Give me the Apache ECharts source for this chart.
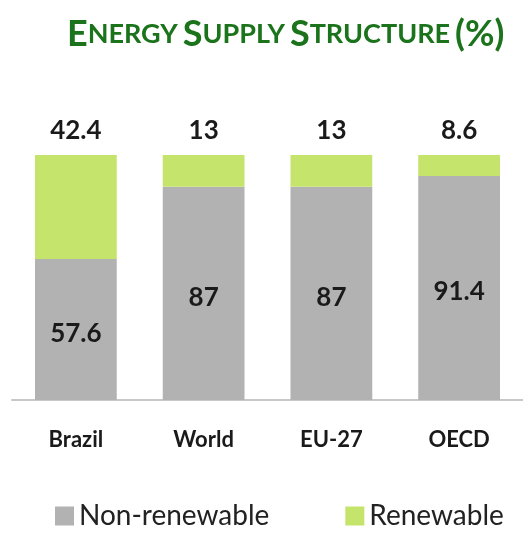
<!DOCTYPE html>
<html>
<head>
<meta charset="utf-8">
<script src="https://cdn.jsdelivr.net/npm/echarts@6/dist/echarts.min.js"></script>
<style>
  html, body { margin: 0; padding: 0; background: #fff; }
  #chart { width: 523px; height: 537px; }
</style>
</head>
<body>
<div id="chart"></div>
<script>
// 数据
var regions = ['Brazil', 'World', 'EU-27', 'OECD'];
var nonRenewable = [57.6, 87, 87, 91.4];
var renewable = [42.4, 13, 13, 8.6];

var FONT = 'Lato, "Open Sans", sans-serif';
var chart = echarts.init(document.getElementById('chart'));

var option = {
  animation: false,
  title: {
    // small caps 标题
    text: '{b|E}{s|NERGY} {b|S}{s|UPPLY} {b|S}{s|TRUCTURE} {b|(%)}',
    left: 62,
    top: 11,
    textStyle: {
      rich: {
        b: { fontFamily: FONT, fontWeight: 'bold', fontSize: 36, color: '#1b731b' },
        s: { fontFamily: FONT, fontWeight: 'bold', fontSize: 27, color: '#1b731b' }
      }
    }
  },
  legend: {
    bottom: 2,
    left: 50,
    itemWidth: 19,
    itemHeight: 19,
    itemGap: 76,
    icon: 'rect',
    textStyle: { fontFamily: FONT, fontSize: 28, color: '#222' },
    data: ['Non-renewable', 'Renewable']
  },
  grid: {
    left: 12,
    top: 155,
    bottom: 137,
    width: 518
  },
  xAxis: {
    type: 'category',
    data: regions,
    axisLine: { lineStyle: { color: '#c8c8c8', width: 2 } },
    axisTick: { show: false },
    axisLabel: {
      margin: 29,
      fontFamily: FONT,
      fontWeight: 'bold',
      fontSize: 22,
      color: '#1a1a1a'
    }
  },
  yAxis: {
    type: 'value',
    min: 0,
    max: 100,
    show: false,
    splitLine: { show: false }
  },
  series: [
    {
      name: 'Non-renewable',
      type: 'bar',
      stack: 'total',
      barWidth: '64%',
      data: nonRenewable,
      itemStyle: { color: '#b2b2b2' },
      label: {
        show: true,
        position: 'inside',
        offset: [0, 4],
        fontFamily: FONT,
        fontWeight: 'bold',
        fontSize: 26,
        color: '#1a1a1a'
      }
    },
    {
      name: 'Renewable',
      type: 'bar',
      stack: 'total',
      data: renewable,
      itemStyle: { color: '#c4e46c' },
      label: {
        show: true,
        position: 'top',
        distance: 11,
        fontFamily: FONT,
        fontWeight: 'bold',
        fontSize: 26,
        color: '#1a1a1a'
      }
    }
  ]
};

chart.setOption(option);
</script>
</body>
</html>
